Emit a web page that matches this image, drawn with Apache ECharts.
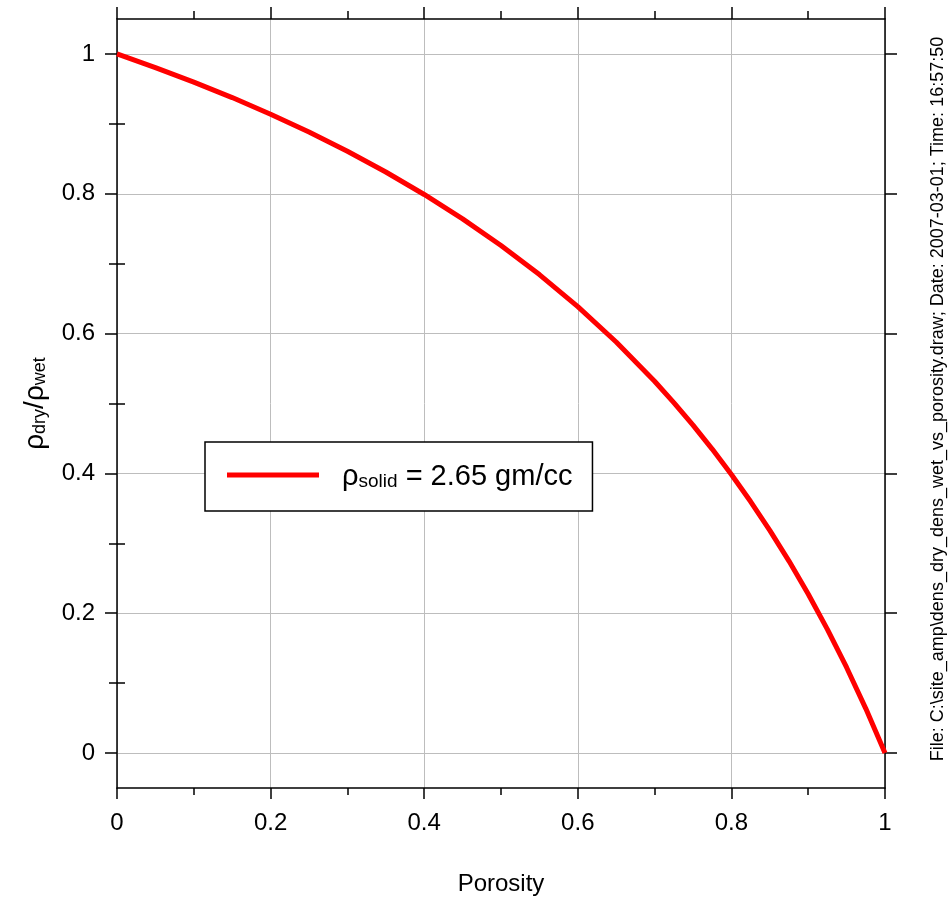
<!DOCTYPE html>
<html>
<head>
<meta charset="utf-8">
<script src="https://cdn.jsdelivr.net/npm/echarts@6/dist/echarts.min.js"></script>
<style>
html,body{margin:0;padding:0;background:#fff;}
#chart{width:950px;height:899px;}
</style>
</head>
<body>
<div id="chart"></div>
<script>
// Data
var porosity = [0, 0.05, 0.1, 0.15, 0.2, 0.25, 0.3, 0.35, 0.4, 0.45, 0.5, 0.55, 0.6, 0.65, 0.7, 0.725, 0.75, 0.775, 0.8, 0.825, 0.85, 0.875, 0.9, 0.925, 0.95, 0.975, 1];
var densRatio = [1, 0.9805, 0.9598, 0.9376, 0.9138, 0.8883, 0.8608, 0.8311, 0.799, 0.7641, 0.726, 0.6844, 0.6386, 0.588, 0.5318, 0.5013, 0.469, 0.4348, 0.3985, 0.3598, 0.3186, 0.2746, 0.2275, 0.1769, 0.1224, 0.0636, 0];
var seriesName = 'ρsolid = 2.65 gm/cc';
var yMajorTicks = [0, 0.2, 0.4, 0.6, 0.8, 1];
var yMinorTicks = [0.1, 0.3, 0.5, 0.7, 0.9];
var footerText = 'File: C:\\site_amp\\dens_dry_dens_wet_vs_porosity.draw; Date: 2007-03-01; Time: 16:57:50';

var pts = porosity.map(function (x, i) { return [x, densRatio[i]]; });
var FONT = 'Liberation Sans, Arial, sans-serif';
var axisLineStyle = { color: '#000', width: 1.5 };
var gridLine = { show: true, lineStyle: { color: '#bdbdbd', width: 1 } };

var chart = echarts.init(document.getElementById('chart'));
chart.setOption({
  backgroundColor: '#fff',
  animation: false,
  textStyle: { fontFamily: FONT },
  grid: { left: 117, right: 65, top: 19, bottom: 111, containLabel: false, outerBoundsMode: 'none' },
  xAxis: [
    {
      type: 'value', position: 'bottom', min: 0, max: 1, interval: 0.2,
      axisLine: { show: true, onZero: false, lineStyle: axisLineStyle },
      axisTick: { show: true, length: 11, lineStyle: axisLineStyle },
      minorTick: { show: true, splitNumber: 2, length: 7, lineStyle: axisLineStyle },
      axisLabel: { fontSize: 24, color: '#000', margin: 23, fontFamily: FONT },
      splitLine: gridLine,
      name: 'Porosity', nameLocation: 'middle', nameGap: 84,
      nameTextStyle: { fontSize: 24, color: '#000', fontFamily: FONT }
    },
    {
      type: 'value', position: 'top', min: 0, max: 1, interval: 0.2,
      axisLine: { show: true, onZero: false, lineStyle: axisLineStyle },
      axisTick: { show: true, length: 12, lineStyle: axisLineStyle },
      minorTick: { show: true, splitNumber: 2, length: 8, lineStyle: axisLineStyle },
      axisLabel: { show: false },
      splitLine: { show: false }
    }
  ],
  yAxis: [
    {
      type: 'value', position: 'left', min: -0.05, max: 1.05,
      axisLine: { show: true, onZero: false, lineStyle: axisLineStyle },
      axisTick: { show: true, length: 12, customValues: yMajorTicks, lineStyle: axisLineStyle },
      axisLabel: { show: true, customValues: yMajorTicks, fontSize: 24, color: '#000', margin: 22, fontFamily: FONT },
      splitLine: gridLine,
      name: '{r|ρ}{s|dry}{r|/ρ}{s|wet}', nameLocation: 'middle', nameRotate: 90, nameGap: 68,
      nameTextStyle: {
        color: '#000', fontFamily: FONT,
        rich: {
          r: { fontSize: 28, color: '#000', fontFamily: FONT, verticalAlign: 'bottom', lineHeight: 30 },
          s: { fontSize: 18, color: '#000', fontFamily: FONT, verticalAlign: 'bottom', lineHeight: 12 }
        }
      }
    },
    {
      type: 'value', position: 'left', min: -0.05, max: 1.05,
      axisLine: { show: false },
      axisTick: { show: true, length: 8, customValues: yMinorTicks, lineStyle: axisLineStyle },
      axisLabel: { show: false },
      splitLine: { show: false }
    },
    {
      type: 'value', position: 'right', min: -0.05, max: 1.05,
      axisLine: { show: true, onZero: false, lineStyle: axisLineStyle },
      axisTick: { show: true, length: 12, customValues: yMajorTicks, lineStyle: axisLineStyle },
      axisLabel: { show: false },
      splitLine: { show: false }
    },
    {
      type: 'value', position: 'right', min: -0.05, max: 1.05,
      axisLine: { show: false },
      axisTick: { show: true, length: 8, customValues: yMinorTicks, lineStyle: axisLineStyle },
      axisLabel: { show: false },
      splitLine: { show: false }
    }
  ],
  legend: {
    show: true,
    left: 205, top: 442,
    orient: 'horizontal',
    data: [seriesName],
    icon: 'rect',
    itemWidth: 92, itemHeight: 5,
    itemStyle: { color: '#ff0000' },
    backgroundColor: '#fff',
    borderColor: '#000', borderWidth: 1.5, borderRadius: 0,
    padding: [20, 20, 20, 22],
    formatter: function () { return '{r|ρ}{s|solid}{r| = 2.65 gm/cc}'; },
    textStyle: {
      color: '#000', fontFamily: FONT, padding: [0, 0, 0, 18],
      rich: {
        r: { fontSize: 29, color: '#000', fontFamily: FONT, verticalAlign: 'bottom', lineHeight: 32 },
        s: { fontSize: 19, color: '#000', fontFamily: FONT, verticalAlign: 'bottom', lineHeight: 16 }
      }
    }
  },
  graphic: [
    {
      type: 'text', x: 938, y: 399, rotation: Math.PI / 2,
      style: { text: footerText, fontSize: 18, fontFamily: FONT, fill: '#000', align: 'center', verticalAlign: 'middle' }
    }
  ],
  series: [
    {
      name: seriesName, type: 'line', xAxisIndex: 0, yAxisIndex: 0,
      data: pts, showSymbol: false, smooth: false,
      lineStyle: { color: '#ff0000', width: 5 },
      itemStyle: { color: '#ff0000' },
      z: 3
    }
  ]
});
</script>
</body>
</html>
